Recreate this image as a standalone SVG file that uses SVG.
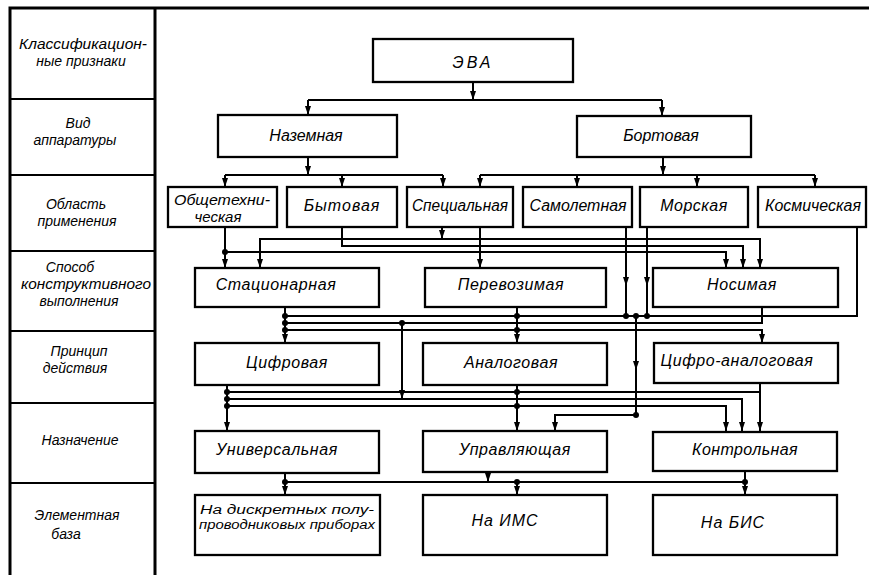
<svg xmlns="http://www.w3.org/2000/svg" width="869" height="575" viewBox="0 0 869 575">
<style>
.frame{fill:none;stroke:#000;stroke-width:3}
.div{fill:none;stroke:#000;stroke-width:2.2}
.box{fill:#fff;stroke:#000;stroke-width:2.3}
.c{fill:none;stroke:#000;stroke-width:2}
.ca{fill:none;stroke:#000;stroke-width:2;marker-end:url(#arr)}
.t{font-family:"Liberation Sans","DejaVu Sans",sans-serif;font-style:italic;font-size:16px;text-anchor:middle;fill:#000}
.l{font-size:14px}
.s{font-size:15px}
.xs{font-size:12.5px}
</style>
<defs>
<marker id="arr" markerUnits="userSpaceOnUse" markerWidth="10" markerHeight="10" refX="9" refY="3" orient="auto">
<path d="M0,0 L9,3 L0,6 z" fill="#000"/>
</marker>
</defs>
<rect width="869" height="575" fill="#fff"/>
<g id="frame">
<path class="frame" d="M10,575 V8 H869 M155,8 V575"/>
<path class="div" d="M10,99 H155 M10,175 H155 M10,251 H155 M10,331 H155 M10,403 H155 M10,483 H155"/>
</g>
<g id="labels">
<text class="t l" x="83" y="49" textLength="128" lengthAdjust="spacingAndGlyphs">Классификацион-</text>
<text class="t l" x="81" y="66">ные признаки</text>
<text class="t l" x="78" y="128">Вид</text>
<text class="t l" x="75" y="145">аппаратуры</text>
<text class="t l" x="76" y="209">Область</text>
<text class="t l" x="77" y="226">применения</text>
<text class="t l" x="70" y="272">Способ</text>
<text class="t l" x="86" y="289" textLength="130" lengthAdjust="spacingAndGlyphs">конструктивного</text>
<text class="t l" x="79" y="306">выполнения</text>
<text class="t l" x="79" y="356">Принцип</text>
<text class="t l" x="75" y="373">действия</text>
<text class="t l" x="80" y="445">Назначение</text>
<text class="t l" x="77" y="520">Элементная</text>
<text class="t l" x="66" y="539">база</text>
</g>
<g id="connectors">
<path class="ca" d="M473,82 V100"/>
<path class="c" d="M308,100 H662"/>
<path class="ca" d="M308,100 V115"/>
<path class="ca" d="M662,100 V116"/>
<path class="ca" d="M308,157 V175"/>
<path class="c" d="M225,175 H443"/>
<path class="ca" d="M225,175 V187"/>
<path class="ca" d="M342,175 V187"/>
<path class="ca" d="M443,175 V187"/>
<path class="ca" d="M663,157 V175"/>
<path class="c" d="M480,175 H815"/>
<path class="ca" d="M480,175 V187"/>
<path class="ca" d="M577,175 V187"/>
<path class="ca" d="M697,175 V187"/>
<path class="ca" d="M815,175 V187"/>
<path class="ca" d="M225,227 V268"/>
<path class="ca" d="M225,252 H726 V268"/>
<path class="ca" d="M342,227 V246 H743 V268"/>
<path class="ca" d="M442,227 V239"/>
<path class="ca" d="M480,239 H760 V268"/>
<path class="ca" d="M480,239 H260 V268"/>
<path class="ca" d="M480,227 V268"/>
<path class="ca" d="M626,227 V286"/>
<path class="c" d="M626,284 V316"/>
<path class="ca" d="M647,227 V286"/>
<path class="c" d="M647,284 V316"/>
<path class="c" d="M857,227 V316 H285"/>
<path class="ca" d="M285,307 V343"/>
<path class="c" d="M762,307 V323 H285"/>
<path class="ca" d="M285,330 H762 V343"/>
<path class="ca" d="M517,307 V343"/>
<path class="ca" d="M402,323 V399"/>
<path class="ca" d="M636,316 V370"/>
<path class="c" d="M636,368 V415"/>
<path class="ca" d="M227,385 V431"/>
<path class="c" d="M227,392 H760"/>
<path class="ca" d="M760,383 V431"/>
<path class="ca" d="M227,399 H742 V431"/>
<path class="ca" d="M227,406 H726 V431"/>
<path class="ca" d="M517,385 V431"/>
<path class="ca" d="M636,415 H555 V431"/>
<path class="ca" d="M285,473 V495"/>
<path class="c" d="M285,482 H745"/>
<path class="ca" d="M488,472 V482"/>
<path class="ca" d="M517,482 V495"/>
<path class="ca" d="M745,471 V495"/>
<g fill="#000">
<circle cx="225" cy="252" r="3"/>
<circle cx="626" cy="316" r="3"/>
<circle cx="636" cy="316" r="3"/>
<circle cx="647" cy="316" r="3"/>
<circle cx="285" cy="316" r="3"/>
<circle cx="285" cy="323" r="3"/>
<circle cx="285" cy="330" r="3"/>
<circle cx="517" cy="316" r="3"/>
<circle cx="517" cy="330" r="3"/>
<circle cx="402" cy="323" r="3"/>
<circle cx="227" cy="392" r="3"/>
<circle cx="227" cy="399" r="3"/>
<circle cx="227" cy="406" r="3"/>
<circle cx="517" cy="392" r="3"/>
<circle cx="517" cy="406" r="3"/>
<circle cx="636" cy="415" r="3"/>
<circle cx="285" cy="482" r="3"/>
<circle cx="517" cy="482" r="3"/>
<circle cx="745" cy="482" r="3"/>
</g>
</g>
<g id="n-eva"><rect class="box" x="373" y="39" width="200" height="43"/><text class="t" x="473" y="68" font-size="17" letter-spacing="3">ЭВА</text></g>
<g id="n-nazemnaya"><rect class="box" x="218" y="115" width="179" height="42"/><text class="t" x="306" y="141">Наземная</text></g>
<g id="n-bortovaya"><rect class="box" x="577" y="116" width="174" height="41"/><text class="t" x="661" y="141">Бортовая</text></g>
<g id="n-obshchetekh"><rect class="box" x="168" y="187" width="109" height="40"/><text class="t s" x="222" y="205" textLength="96" lengthAdjust="spacingAndGlyphs">Общетехни-</text><text class="t s" x="218" y="222">ческая</text></g>
<g id="n-bytovaya"><rect class="box" x="287" y="187" width="110" height="40"/><text class="t" x="342" y="211" letter-spacing="1">Бытовая</text></g>
<g id="n-spets"><rect class="box" x="407" y="187" width="106" height="40"/><text class="t" x="460" y="211" textLength="96" lengthAdjust="spacingAndGlyphs">Специальная</text></g>
<g id="n-samolet"><rect class="box" x="523" y="187" width="109" height="40"/><text class="t" x="578" y="211" textLength="97" lengthAdjust="spacingAndGlyphs">Самолетная</text></g>
<g id="n-morskaya"><rect class="box" x="640" y="187" width="108" height="40"/><text class="t" x="694" y="211" letter-spacing="0.5">Морская</text></g>
<g id="n-kosm"><rect class="box" x="758" y="187" width="108" height="40"/><text class="t" x="813" y="211" textLength="96" lengthAdjust="spacingAndGlyphs">Космическая</text></g>
<g id="n-stats"><rect class="box" x="195" y="268" width="184" height="39"/><text class="t" x="276" y="290" letter-spacing="0.6">Стационарная</text></g>
<g id="n-perev"><rect class="box" x="425" y="268" width="181" height="39"/><text class="t" x="511" y="290" letter-spacing="0.6">Перевозимая</text></g>
<g id="n-nosim"><rect class="box" x="653" y="268" width="185" height="39"/><text class="t" x="742" y="290" letter-spacing="0.6">Носимая</text></g>
<g id="n-tsifr"><rect class="box" x="195" y="343" width="184" height="42"/><text class="t" x="287" y="368" letter-spacing="0.6">Цифровая</text></g>
<g id="n-analog"><rect class="box" x="423" y="343" width="184" height="42"/><text class="t" x="511" y="368" letter-spacing="0.6">Аналоговая</text></g>
<g id="n-tsa"><rect class="box" x="654" y="343" width="184" height="40"/><text class="t" x="737" y="366" letter-spacing="0.6">Цифро-аналоговая</text></g>
<g id="n-univ"><rect class="box" x="195" y="431" width="184" height="42"/><text class="t" x="277" y="455" letter-spacing="0.6">Универсальная</text></g>
<g id="n-uprav"><rect class="box" x="423" y="431" width="184" height="41"/><text class="t" x="515" y="455" letter-spacing="0.6">Управляющая</text></g>
<g id="n-kontr"><rect class="box" x="653" y="432" width="184" height="39"/><text class="t" x="745" y="455" letter-spacing="0.4">Контрольная</text></g>
<g id="n-diskr"><rect class="box" x="195" y="495" width="185" height="60"/><text class="t xs" x="287" y="514" textLength="174" lengthAdjust="spacingAndGlyphs">На дискретных полу-</text><text class="t xs" x="287" y="529" textLength="176" lengthAdjust="spacingAndGlyphs">проводниковых приборах</text></g>
<g id="n-ims"><rect class="box" x="423" y="495" width="184" height="60"/><text class="t" x="505" y="526" letter-spacing="1">На ИМС</text></g>
<g id="n-bis"><rect class="box" x="653" y="495" width="184" height="60"/><text class="t" x="733" y="528" letter-spacing="1">На БИС</text></g>
</svg>
